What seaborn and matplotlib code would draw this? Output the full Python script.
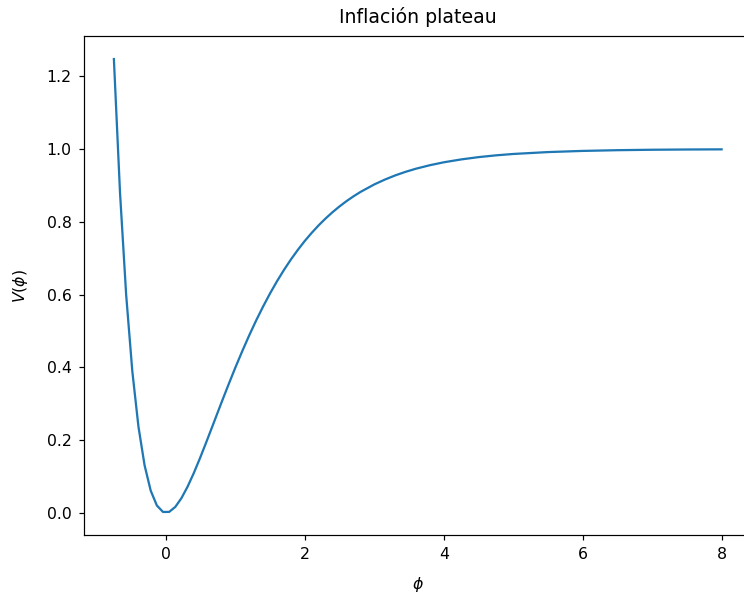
import matplotlib
matplotlib.use("Agg")
import matplotlib.pyplot as plt
import seaborn as sns
import pandas as pd

# Potential V(phi) sampled along the field
phi = [-0.75, -0.6616, -0.5732, -0.4848, -0.3965, -0.3081, -0.2197, -0.1313,
       -0.0429, 0.0455, 0.1338, 0.2222, 0.3106, 0.3990, 0.4874, 0.5758,
       0.6641, 0.7525, 0.8, 0.9, 1.0, 1.1, 1.2, 1.3, 1.4, 1.5, 1.6, 1.7,
       1.8, 1.9, 2.0, 2.1, 2.2, 2.3, 2.4, 2.5, 2.6, 2.7, 2.8, 3.0, 3.15,
       3.3, 3.45, 3.6, 3.8, 4.0, 4.25, 4.5, 4.75, 5.0, 5.5, 6.0, 6.5, 7.0,
       7.5, 8.0]
V = [1.2477, 0.8795, 0.5989, 0.3892, 0.2368, 0.1302, 0.0604, 0.0197,
     0.0019, 0.0020, 0.0157, 0.0397, 0.0713, 0.1082, 0.1488, 0.1916,
     0.2354, 0.2796, 0.3033, 0.3521, 0.3996, 0.4450, 0.4883, 0.5293,
     0.5676, 0.6036, 0.6370, 0.6680, 0.6967, 0.7232, 0.7477, 0.7700,
     0.7907, 0.8095, 0.8268, 0.8425, 0.8570, 0.8701, 0.8821, 0.9029,
     0.9160, 0.9276, 0.9375, 0.9461, 0.9557, 0.9637, 0.9716, 0.9779,
     0.9828, 0.9866, 0.9918, 0.9950, 0.9970, 0.9982, 0.9989, 0.9993]

df = pd.DataFrame({"phi": phi, "V": V})

plt.rcParams["font.size"] = 10.5

dpi = 108
W, H = 744, 601
fig = plt.figure(figsize=(W / dpi, H / dpi), dpi=dpi)
ax = fig.add_axes([83.5 / W, (H - 534.6) / H, (752 - 83.5) / W, (534.6 - 36.4) / H])

sns.lineplot(data=df, x="phi", y="V", ax=ax, color="#1f77b4", linewidth=1.5, sort=False)

ax.set_title("Inflación plateau", fontsize=12.6, pad=9)
ax.set_xlabel(r"$\phi$", labelpad=9)
ax.set_ylabel(r"$V(\phi)$", labelpad=11)
ax.tick_params(pad=4.5)

fig.savefig("out.png", dpi=dpi)
